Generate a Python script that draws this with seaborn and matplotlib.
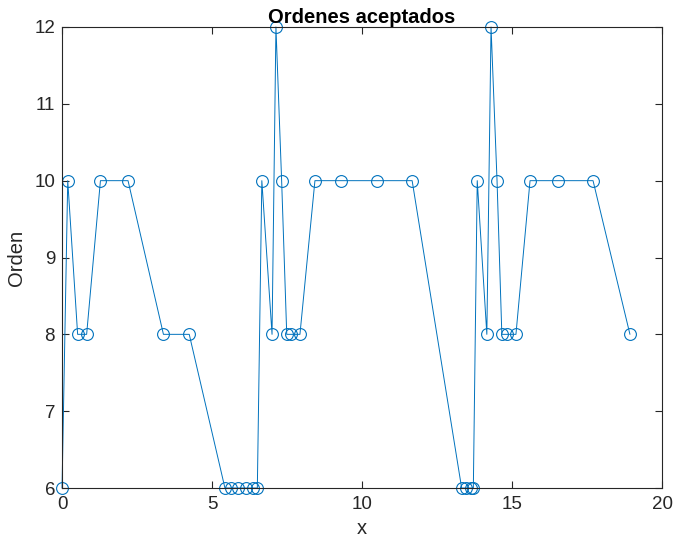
import matplotlib
matplotlib.use("Agg")
import matplotlib.pyplot as plt
import seaborn as sns
import pandas as pd

x_vals = [0.0, 0.19, 0.52, 0.82, 1.28, 2.2, 3.38, 4.24,
          5.43, 5.62, 5.88, 6.12, 6.38, 6.51,
          6.66, 7.0, 7.13, 7.32, 7.49, 7.62, 7.93,
          8.43, 9.3, 10.5, 11.67,
          13.32, 13.47, 13.62, 13.71,
          13.84, 14.16, 14.3, 14.5, 14.66, 14.82, 15.13,
          15.6, 16.53, 17.7, 18.93]
orden = [6, 10, 8, 8, 10, 10, 8, 8,
         6, 6, 6, 6, 6, 6,
         10, 8, 12, 10, 8, 8, 8,
         10, 10, 10, 10,
         6, 6, 6, 6,
         10, 8, 12, 10, 8, 8, 8,
         10, 10, 10, 8]
x_ticks = [0, 5, 10, 15, 20]
y_ticks = [6, 7, 8, 9, 10, 11, 12]

sns.set_theme(style="white")
plt.rcParams['font.family'] = ['Liberation Sans', 'DejaVu Sans']

df = pd.DataFrame({"x": x_vals, "Orden": orden})
fig = plt.figure(figsize=(6.75, 5.42), dpi=100)
ax = fig.add_axes([0.0919, 0.0996, 0.8889, 0.8506])
color = "#0072BD"
sns.lineplot(data=df, x="x", y="Orden", sort=False, ax=ax, color=color,
             linewidth=0.7, marker="o", markersize=8.5,
             markerfacecolor="none", markeredgecolor=color, markeredgewidth=0.8)
for ln in ax.get_lines():
    ln.set_clip_on(False)
ax.set_xlim(0, 20)
ax.set_ylim(6, 12)
ax.set_xticks(x_ticks)
ax.set_yticks(y_ticks)
ax.tick_params(direction="in", length=5, width=0.8, colors="#262626",
               labelsize=13.5, top=True, right=True, bottom=True, left=True,
               labelcolor="#262626")
ax.tick_params(axis="x", pad=6)
ax.tick_params(axis="y", pad=5)
for s in ax.spines.values():
    s.set_color("#262626")
    s.set_linewidth(0.8)
ax.set_title("Ordenes aceptados", fontsize=14.5, fontweight="bold", pad=3, color="black")
ax.set_xlabel("x", fontsize=14.5, labelpad=4, color="#262626")
ax.set_ylabel("Orden", fontsize=14.5, labelpad=6, color="#262626")
fig.savefig("out.png", dpi=100)
